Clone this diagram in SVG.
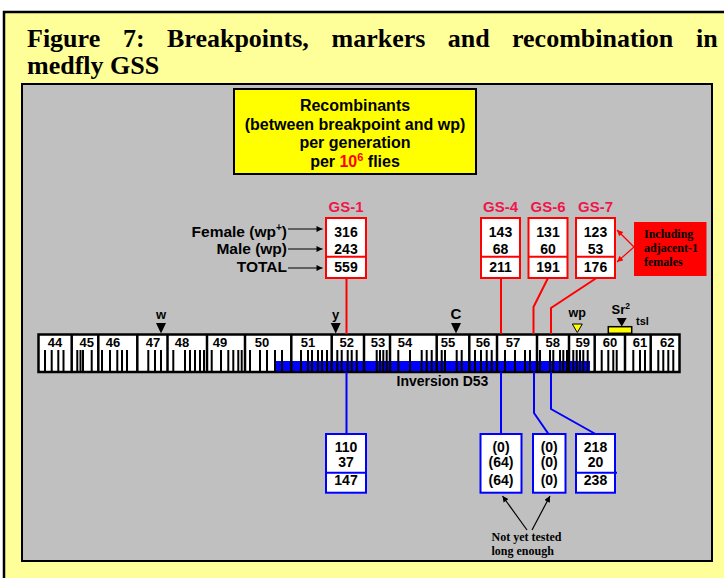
<svg xmlns="http://www.w3.org/2000/svg" width="724" height="578" viewBox="0 0 724 578">
<defs>
<style>
.t{font-family:"Liberation Serif","Times New Roman",serif;font-weight:bold;fill:#000}
.s{font-family:"Liberation Sans",Arial,sans-serif;font-weight:bold;fill:#000}
.gs{fill:#F0164A;font-size:15px;text-anchor:middle}
.num{font-size:14px;text-anchor:middle}
.lab{font-size:15.5px;text-anchor:end}
.seg{font-size:13px;text-anchor:middle}
.rbox{fill:#fff;stroke:#ff0000;stroke-width:2}
.bbox{fill:#fff;stroke:#0000ff;stroke-width:2}
.rl{fill:none;stroke:#ff0000;stroke-width:2}
.bl{fill:none;stroke:#0000ff;stroke-width:2}
.ar{fill:none;stroke:#000;stroke-width:1.2;marker-end:url(#ah)}
.arr{fill:none;stroke:#ff0000;stroke-width:1.2;marker-end:url(#ahr)}
</style>
<marker id="ah" viewBox="0 0 10 10" refX="10" refY="5" markerWidth="7" markerHeight="6" orient="auto" markerUnits="userSpaceOnUse"><path d="M0,0L10,5L0,10z" fill="#000"/></marker>
<marker id="ahr" viewBox="0 0 10 10" refX="10" refY="5" markerWidth="7" markerHeight="6" orient="auto" markerUnits="userSpaceOnUse"><path d="M0,0L10,5L0,10z" fill="#ff0000"/></marker>
</defs>
<rect x="0" y="0" width="724" height="578" fill="#fff"/>
<rect x="4" y="12" width="740" height="600" fill="#FFFF99" stroke="#000" stroke-width="2.5"/>
<g id="title" class="t" font-size="26">
<text x="27" y="47">Figure</text>
<text x="123" y="47">7:</text>
<text x="167" y="47">Breakpoints,</text>
<text x="331.6" y="47">markers</text>
<text x="447.8" y="47">and</text>
<text x="512" y="47">recombination</text>
<text x="696" y="47">in</text>
<text x="27" y="74">medfly GSS</text>
</g>
<rect id="panel" x="22" y="84" width="690" height="477" fill="#C0C0C0" stroke="#000" stroke-width="2"/>
<g id="legend">
<rect x="234" y="89" width="242" height="85" fill="#FFFF00" stroke="#000" stroke-width="2"/>
<g class="s" font-size="16" text-anchor="middle">
<text x="355" y="111">Recombinants</text>
<text x="355" y="129.5">(between breakpoint and wp)</text>
<text x="355" y="148">per generation</text>
<text x="355" y="166.5">per <tspan fill="#ff0000">10</tspan><tspan fill="#ff0000" font-size="11" dy="-6">6</tspan><tspan dy="6"> flies</tspan></text>
</g>
</g>
<g id="row-labels" class="s lab">
<text x="287" y="237">Female (wp<tspan font-size="10" dy="-6">+</tspan><tspan dy="6">)</tspan></text>
<text x="287" y="254">Male (wp)</text>
<text x="287" y="272">TOTAL</text>
</g>
<g id="gs1-top">
<text class="s gs" x="346" y="212">GS-1</text>
<rect class="rbox" x="326" y="218" width="40" height="60"/>
<line x1="326" y1="256.7" x2="366" y2="256.7" stroke="#ff0000" stroke-width="2"/>
<g class="s num"><text x="346" y="237">316</text><text x="346" y="254">243</text><text x="346" y="272">559</text></g>
</g>
<g id="gs4-top">
<text class="s gs" x="500.5" y="212">GS-4</text>
<rect class="rbox" x="481" y="218" width="39" height="60"/>
<line x1="481" y1="256.7" x2="520" y2="256.7" stroke="#ff0000" stroke-width="2"/>
<g class="s num"><text x="500.5" y="237">143</text><text x="500.5" y="254">68</text><text x="500.5" y="272">211</text></g>
</g>
<g id="gs6-top">
<text class="s gs" x="548" y="212">GS-6</text>
<rect class="rbox" x="528.5" y="218" width="39" height="60"/>
<line x1="528.5" y1="256.7" x2="567.5" y2="256.7" stroke="#ff0000" stroke-width="2"/>
<g class="s num"><text x="548" y="237">131</text><text x="548" y="254">60</text><text x="548" y="272">191</text></g>
</g>
<g id="gs7-top">
<text class="s gs" x="595.5" y="212">GS-7</text>
<rect class="rbox" x="576" y="218" width="39" height="60"/>
<line x1="576" y1="256.7" x2="615" y2="256.7" stroke="#ff0000" stroke-width="2"/>
<g class="s num"><text x="595.5" y="237">123</text><text x="595.5" y="254">53</text><text x="595.5" y="272">176</text></g>
</g>
<g id="note-adjacent">
<rect x="634" y="222" width="72.5" height="54" fill="#ff0000"/>
<g class="t" font-size="12" fill="#220000"><text x="644" y="238">Including</text><text x="644" y="252">adjacent-1</text><text x="644" y="266">females</text></g>
</g>
<g id="chromosome">
<rect x="38.5" y="334.5" width="641" height="37.5" fill="#fff" stroke="#000" stroke-width="2.5"/>
<rect x="275" y="361" width="315" height="10" fill="#0000ff"/>
<path stroke="#000" stroke-width="2" fill="none" d="M45 350V371M51.7 350V371M58.3 350V371M63.5 350V371M77.3 350V371M80.5 350V371M83 350V371M91.7 350V371M102 350V371M110 350V371M117.3 350V371M122 350V371M127 350V371M148.3 350V371M155 350V371M161 350V371M173.3 350V371M185 350V371M190 350V371M195 350V371M200 350V371M204 350V371M211.7 350V371M221 350V371M228.3 350V371M233.3 350V371M238.3 350V371M241.7 350V371M250 350V371M260 350V371M267 350V371M275 350V371M282 350V371M301 350V371M308 350V371M312 350V371M318 350V371M322 350V371M327 350V371M337.3 350V371M341.7 350V371M347.7 350V371M351.7 350V371M356.7 350V371M376.7 350V371M380 350V371M383.3 350V371M386.7 350V371M398.3 350V371M410 350V371M421.7 350V371M426.7 350V371M431.7 350V371M441.7 350V371M445 350V371M456.7 350V371M461.7 350V371M475 350V371M481 350V371M486.7 350V371M491.7 350V371M505 350V371M515 350V371M525 350V371M530 350V371M540 350V371M550 350V371M553.3 350V371M560 350V371M563.3 350V371M567 350V371M573.3 350V371M576.7 350V371M580 350V371M583.3 350V371M587.7 350V371M601.7 350V371M608.3 350V371M613.3 350V371M616.7 350V371M633.3 350V371M640 350V371M645 350V371M658.3 350V371M663.3 350V371M668.3 350V371M673.3 350V371"/>
<path stroke="#000" stroke-width="2.5" fill="none" d="M71.7 335V371M98.3 335V371M137.3 335V371M167.5 335V371M207 335V371M245 335V371M291.3 335V371M331.7 335V371M364 335V371M390 335V371M436.7 335V371M469.3 335V371M497 335V371M537 335V371M569 335V371M594.7 335V371M625 335V371M650.7 335V371"/>
<g class="s seg">
<text x="55" y="346.5">44</text><text x="86.7" y="346.5">45</text><text x="113" y="346.5">46</text><text x="153" y="346.5">47</text><text x="182" y="346.5">48</text><text x="220" y="346.5">49</text><text x="262" y="346.5">50</text><text x="308" y="346.5">51</text><text x="346.7" y="346.5">52</text><text x="378" y="346.5">53</text><text x="405" y="346.5">54</text><text x="448" y="346.5">55</text><text x="483" y="346.5">56</text><text x="513" y="346.5">57</text><text x="552.7" y="346.5">58</text><text x="582.7" y="346.5">59</text><text x="610" y="346.5">60</text><text x="640" y="346.5">61</text><text x="667.3" y="346.5">62</text>
</g>
<text class="s" x="442.5" y="386" font-size="14" text-anchor="middle" fill="#3344DD">Inversion D53</text>
</g>
<g id="marker-w"><polygon points="156,323 166,323 161,333.5" fill="#000"/><text class="s" x="161" y="319" font-size="13" text-anchor="middle">w</text></g>
<g id="marker-y"><polygon points="330.7,323 340.7,323 335.7,333.5" fill="#000"/><text class="s" x="335.7" y="319" font-size="13" text-anchor="middle">y</text></g>
<g id="marker-c"><polygon points="451,323 461,323 456,333.5" fill="#000"/><text class="s" x="456" y="318.5" font-size="15" text-anchor="middle">C</text></g>
<g id="marker-wp"><polygon points="572.3,324 582.3,324 577.3,332.5" fill="#FFFF00" stroke="#000" stroke-width="1"/><text class="s" x="577.3" y="317" font-size="12.5" text-anchor="middle">wp</text></g>
<g id="marker-sr2">
<rect x="608.3" y="326.7" width="23.4" height="6.6" fill="#FFFF00" stroke="#000" stroke-width="1.5"/>
<polygon points="616.7,318 626.7,318 621.7,326.5" fill="#000"/>
<text class="s" x="611.5" y="313.5" font-size="13">Sr<tspan font-size="8.5" dy="-5">2</tspan></text>
<text class="s" x="636" y="324.5" font-size="11">tsl</text>
</g>
<g id="gs1-bottom">
<rect class="bbox" x="326" y="434" width="40" height="58.7"/>
<line x1="326" y1="472.7" x2="366" y2="472.7" stroke="#0000ff" stroke-width="2"/>
<g class="s num"><text x="346" y="451.7">110</text><text x="346" y="467.3">37</text><text x="346" y="485">147</text></g>
</g>
<g id="gs4-bottom">
<rect class="bbox" x="480.5" y="434" width="41" height="58.7"/>
<g class="s num"><text x="501" y="451.7">(0)</text><text x="501" y="467.3">(64)</text><text x="501" y="485">(64)</text></g>
</g>
<g id="gs6-bottom">
<rect class="bbox" x="533" y="434" width="32.5" height="58.7"/>
<g class="s num"><text x="549.2" y="451.7">(0)</text><text x="549.2" y="467.3">(0)</text><text x="549.2" y="485">(0)</text></g>
</g>
<g id="gs7-bottom">
<rect class="bbox" x="576" y="434" width="39" height="58.7"/>
<line x1="576" y1="472.7" x2="617" y2="472.7" stroke="#0000ff" stroke-width="2"/>
<g class="s num"><text x="595.5" y="451.7">218</text><text x="595.5" y="467.3">20</text><text x="595.5" y="485">238</text></g>
</g>
<g id="note-tested" class="t" font-size="12">
<text x="491.5" y="540.5">Not yet tested</text>
<text x="491.5" y="554.5">long enough</text>
</g>
<g id="connectors">
<line class="ar" x1="288" y1="229" x2="322.5" y2="229"/>
<line class="ar" x1="288" y1="249" x2="322.5" y2="249"/>
<line class="ar" x1="288" y1="268" x2="322.5" y2="268"/>
<line class="arr" x1="634" y1="247" x2="617" y2="230"/>
<line class="arr" x1="634" y1="247" x2="617" y2="262"/>
<polyline class="rl" points="346.5,278 346.5,334"/>
<polyline class="rl" points="501,278 501,334"/>
<polyline class="rl" points="548,278 533.5,307 533.5,334"/>
<polyline class="rl" points="596.5,278 551,308 551,334"/>
<polyline class="bl" points="346.5,372 346.5,434"/>
<polyline class="bl" points="501,372 501,434"/>
<polyline class="bl" points="534,372 534,413 548.5,434"/>
<polyline class="bl" points="551,372 551,409 595.5,434"/>
<line class="ar" x1="527" y1="530" x2="502.5" y2="496"/>
<line class="ar" x1="532" y1="530" x2="550" y2="496"/>
</g>
</svg>
